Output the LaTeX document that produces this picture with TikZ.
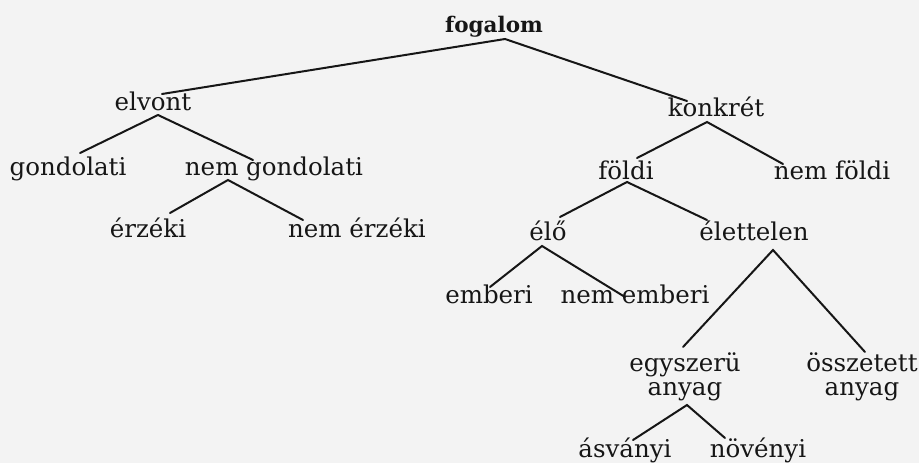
\documentclass[tikz,border=0pt]{standalone}
\usepackage{fontspec}
\setmainfont{DejaVu Serif}
\definecolor{ink}{HTML}{161616}
\definecolor{paper}{HTML}{F3F3F3}
\begin{document}
\begin{tikzpicture}[x=1pt,y=-1pt,
  lbl/.style={anchor=base, inner sep=0pt, outer sep=0pt, text=ink,
    font=\fontsize{24.5}{23.5}\selectfont},
  rootlbl/.style={lbl, font=\bfseries\fontsize{21.5}{24}\selectfont},
  edge/.style={draw=ink, line width=2pt, line cap=round}]
\fill[paper] (0,0) rectangle (919,463);
\useasboundingbox (0,0) rectangle (919,463);

% nodes (x = centre, y = baseline; two-line nodes: baseline of last line)
\node[rootlbl] (fogalom) at (494,32) {fogalom};
\node[lbl] (elvont) at (153,110) {elvont};
\node[lbl] (konkret) at (716,116) {konkrét};
\node[lbl] (gond) at (68,175) {gondolati};
\node[lbl] (nemgond) at (274,175) {nem gondolati};
\node[lbl] (erzeki) at (148,237) {érzéki};
\node[lbl] (nemerzeki) at (357,237) {nem érzéki};
\node[lbl] (foldi) at (626,179) {földi};
\node[lbl] (nemfoldi) at (832,179) {nem földi};
\node[lbl] (elo) at (548,240) {élő};
\node[lbl] (elettelen) at (754,240) {élettelen};
\node[lbl] (emberi) at (489,303) {emberi};
\node[lbl] (nememberi) at (635,303) {nem emberi};
\node[lbl, align=center] (egyszeru) at (685,395) {egyszerü\\anyag};
\node[lbl, align=center] (osszetett) at (862,395) {összetett\\anyag};
\node[lbl] (asvanyi) at (625,457) {ásványi};
\node[lbl] (novenyi) at (758,457) {növényi};

% connectors
\draw[edge] ([xshift=9pt,yshift=16pt]elvont.base) -- ([xshift=11pt,yshift=-7pt]fogalom.base) -- ([xshift=-29pt,yshift=15pt]konkret.base);
\draw[edge] ([xshift=12pt,yshift=22pt]gond.base) -- ([xshift=5pt,yshift=-5pt]elvont.base) -- ([xshift=-21pt,yshift=15pt]nemgond.base);
\draw[edge] ([xshift=22pt,yshift=24pt]erzeki.base) -- ([xshift=-46pt,yshift=-5pt]nemgond.base) -- ([xshift=-54pt,yshift=17pt]nemerzeki.base);
\draw[edge] ([xshift=11pt,yshift=21pt]foldi.base) -- ([xshift=-9pt,yshift=-6pt]konkret.base) -- ([xshift=-49pt,yshift=15pt]nemfoldi.base);
\draw[edge] ([xshift=12pt,yshift=23pt]elo.base) -- ([xshift=1pt,yshift=-3pt]foldi.base) -- ([xshift=-47pt,yshift=20pt]elettelen.base);
\draw[edge] ([xshift=1pt,yshift=16pt]emberi.base) -- ([xshift=-6pt,yshift=-6pt]elo.base) -- ([xshift=-10pt,yshift=6pt]nememberi.base);
\draw[edge] ([xshift=-2pt,yshift=48pt]egyszeru.base) -- ([xshift=19pt,yshift=-10pt]elettelen.base) -- ([xshift=3pt,yshift=43pt]osszetett.base);
\draw[edge] ([xshift=8pt,yshift=17pt]asvanyi.base) -- ([xshift=2pt,yshift=-10pt]egyszeru.base) -- ([xshift=-33pt,yshift=19pt]novenyi.base);
\end{tikzpicture}
\end{document}
